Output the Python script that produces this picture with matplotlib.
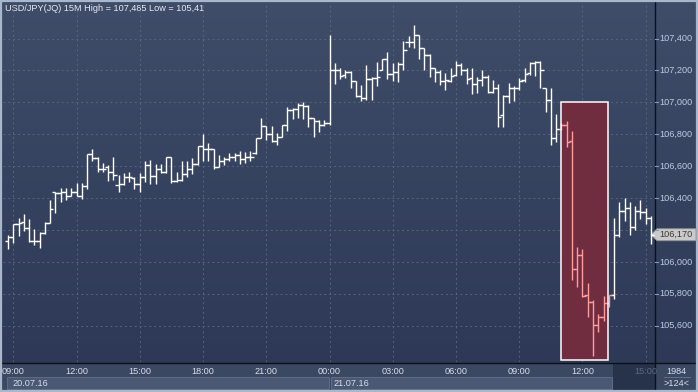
import matplotlib
matplotlib.use("Agg")
import matplotlib.pyplot as plt
import numpy as np
from matplotlib.colors import LinearSegmentedColormap
from matplotlib.patches import Rectangle, Polygon
from matplotlib.transforms import blended_transform_factory

plt.rcParams["font.family"] = ["Liberation Sans", "DejaVu Sans"]

title = "USD/JPY(JQ) 15M High = 107,485 Low = 105,41"

# 15 minute bars, bar 0 = 20.07.16 09:00
first_bar = -1
opens = [
    106130, 106155, 106235, 106250, 106210, 106130, 106130, 106180, 106245, 106435,
    106430, 106440, 106415, 106435, 106415, 106475, 106675, 106650, 106585, 106595,
    106565, 106480, 106490, 106535, 106525, 106490, 106535, 106605, 106540, 106585,
    106565, 106655, 106510, 106515, 106550, 106585, 106615, 106725, 106705, 106705,
    106595, 106635, 106645, 106660, 106670, 106645, 106660, 106685, 106775, 106850,
    106800, 106755, 106785, 106860, 106950, 106960, 106985, 106975, 106900, 106885,
    106860, 106870, 107205, 107205, 107170, 107190, 107135, 107040, 107030, 107145,
    107155, 107205, 107270, 107180, 107190, 107240, 107380, 107380, 107420, 107340,
    107300, 107215, 107190, 107135, 107135, 107170, 107235, 107200, 107150, 107115,
    107140, 107160, 107065, 107090, 106920, 107040, 107090, 107090, 107140, 107185,
    107245, 107250, 107090, 107015, 106775, 106830, 106860, 106755, 105955, 106045,
    105790, 105750, 105605, 105655, 105745, 105790, 106170, 106320, 106340, 106220,
    106320, 106310, 106275,
]
highs = [
    106170, 106240, 106275, 106300, 106270, 106205, 106185, 106250, 106385, 106440,
    106460, 106460, 106460, 106495, 106495, 106675, 106710, 106655, 106620, 106605,
    106660, 106545, 106560, 106565, 106535, 106555, 106630, 106640, 106615, 106615,
    106655, 106655, 106565, 106630, 106635, 106650, 106725, 106800, 106745, 106705,
    106670, 106660, 106680, 106685, 106695, 106690, 106695, 106775, 106900, 106850,
    106850, 106805, 106860, 106970, 106965, 106995, 107005, 106985, 106900, 106890,
    106890, 107425, 107245, 107215, 107205, 107195, 107135, 107110, 107235, 107160,
    107250, 107275, 107315, 107245, 107250, 107385, 107415, 107485, 107420, 107340,
    107305, 107215, 107200, 107185, 107215, 107260, 107245, 107215, 107215, 107160,
    107200, 107170, 107140, 107115, 107045, 107120, 107100, 107150, 107215, 107250,
    107260, 107260, 107090, 107090, 106925, 106870, 106880, 106820, 106095, 106080,
    105870, 105760, 105675, 105785, 105795, 106275, 106375, 106400, 106375, 106350,
    106385, 106340, 106285,
]
lows = [
    106080, 106120, 106165, 106195, 106125, 106105, 106085, 106175, 106245, 106305,
    106375, 106390, 106410, 106410, 106395, 106455, 106630, 106565, 106565, 106510,
    106515, 106435, 106480, 106500, 106455, 106440, 106500, 106490, 106490, 106555,
    106555, 106495, 106500, 106510, 106535, 106550, 106605, 106630, 106630, 106585,
    106595, 106605, 106630, 106630, 106615, 106620, 106630, 106675, 106775, 106765,
    106750, 106730, 106785, 106820, 106895, 106900, 106895, 106845, 106785, 106815,
    106850, 106855, 107115, 107145, 107155, 107090, 107035, 107010, 107015, 107015,
    107100, 107200, 107145, 107135, 107130, 107200, 107345, 107340, 107270, 107205,
    107160, 107130, 107110, 107075, 107130, 107165, 107170, 107115, 107055, 107060,
    107100, 107060, 107060, 106845, 106845, 106995, 107010, 107075, 107130, 107170,
    107165, 107090, 106940, 106730, 106750, 106825, 106720, 105885, 105845, 105780,
    105655, 105410, 105560, 105630, 105715, 105765, 106155, 106255, 106170, 106200,
    106270, 106240, 106115,
]
closes = [
    106155, 106235, 106245, 106210, 106130, 106130, 106180, 106245, 106330, 106430,
    106440, 106415, 106435, 106415, 106475, 106675, 106650, 106580, 106585, 106565,
    106545, 106490, 106535, 106535, 106490, 106535, 106605, 106540, 106585, 106565,
    106655, 106510, 106515, 106550, 106585, 106615, 106725, 106705, 106705, 106595,
    106635, 106645, 106655, 106670, 106645, 106660, 106660, 106775, 106850, 106800,
    106755, 106785, 106860, 106950, 106960, 106985, 106975, 106900, 106885, 106860,
    106870, 107205, 107205, 107165, 107190, 107135, 107040, 107030, 107145, 107155,
    107160, 107270, 107180, 107190, 107240, 107330, 107380, 107420, 107340, 107300,
    107215, 107190, 107135, 107140, 107165, 107235, 107200, 107145, 107115, 107140,
    107160, 107065, 107090, 106910, 107040, 107090, 107090, 107135, 107180, 107245,
    107250, 107200, 107015, 106775, 106830, 106860, 106750, 105955, 106045, 105785,
    105750, 105605, 105655, 105745, 105790, 106170, 106320, 106340, 106220, 106320,
    106310, 106275, 106170,
]

time_ticks = [0, 12, 24, 36, 48, 60, 72, 84, 96, 108, 120]
time_labels = ["09:00", "12:00", "15:00", "18:00", "21:00", "00:00",
               "03:00", "06:00", "09:00", "12:00", "15:00"]
date_labels = ["20.07.16", "21.07.16"]
price_ticks = [105600, 105800, 106000, 106200, 106400, 106600, 106800, 107000, 107200, 107400]
last_price = 106170
box_first, box_last = 104, 113
box_top = 107000

bars = np.arange(first_bar, first_bar + len(closes))
in_box = (bars >= box_first) & (bars <= box_last)
colors = np.where(in_box, "#ff9c9c", "#ffffff")

W, H = 698, 392
fig = plt.figure(figsize=(W / 100, H / 100), dpi=100)

# background layer in pixel coordinates
bg = fig.add_axes([0, 0, 1, 1])
bg.set_xlim(0, W)
bg.set_ylim(H, 0)
bg.axis("off")
cmap = LinearSegmentedColormap.from_list("bgr", ["#3f4d69", "#2d3956"])
grad = np.linspace(0, 1, 256).reshape(-1, 1)
bg.imshow(grad, cmap=cmap, extent=[0, 655, 363, 0], aspect="auto", zorder=0)
bg.imshow(grad, cmap=cmap, extent=[655, W, 363, 0], aspect="auto", zorder=0)
bg.add_patch(Rectangle((0, 363), W, H - 363, fc="#3b4862", ec="none", zorder=1))
bg.add_patch(Rectangle((7, 377), 322, 12, fc="#4a5874", ec="#5e6c88", lw=0.7, zorder=2))
bg.add_patch(Rectangle((331, 377), 281, 12, fc="#4a5874", ec="#5e6c88", lw=0.7, zorder=2))
bg.add_patch(Rectangle((613, 364), 42, 26, fc="#27324b", ec="none", zorder=2))
bg.plot([0, W], [363, 363], color="#0d1018", lw=1.0, zorder=3)
bg.plot([655, 655], [0, 390], color="#0d1018", lw=1.0, zorder=3)
bg.plot([664, 690], [377, 377], color="#6b7894", lw=0.6, zorder=3)
bg.add_patch(Rectangle((1, 1), W - 2, H - 2, fill=False, ec="#a9b7cb", lw=1.6, zorder=4))
bg.text(5, 8, title, color="#e6ebf3", fontsize=6.6, va="center", ha="left", zorder=5)
bg.text(676, 371, "1984", color="#d5deec", fontsize=6.6, va="center", ha="center", zorder=5)
bg.text(676, 384, ">124<", color="#d5deec", fontsize=6.6, va="center", ha="center", zorder=5)
bg.text(12, 383, date_labels[0], color="#d5deec", fontsize=6.6, va="center", ha="left", zorder=5)
bg.text(333, 383, date_labels[1], color="#d5deec", fontsize=6.6, va="center", ha="left", zorder=5)

# price chart
ax = fig.add_axes([3 / W, 30 / H, 652 / W, 359 / H])
ax.patch.set_alpha(0)
for s in ax.spines.values():
    s.set_visible(False)
ax.set_xlim(-1.95, 121.76)
ax.set_ylim(105372, 107623)
ax.set_xticks([])
ax.set_yticks([])

for p in price_ticks:
    ax.axhline(p, color="#56647f", lw=0.7, ls=(0, (2, 3)), zorder=1)
for t in time_ticks:
    ax.axvline(t, color="#56647f", lw=0.7, ls=(0, (2, 3)), zorder=1)

ax.add_patch(Rectangle((box_first - 0.12, 105385), box_last - box_first + 0.02, box_top - 105385,
                       fc="#712d40", ec="none", zorder=2))
ax.add_patch(Rectangle((box_first - 0.12, 105385), box_last - box_first + 0.02, box_top - 105385,
                       fill=False, ec="#ffffff", lw=1.1, zorder=4))

tick = 0.62
ax.vlines(bars, lows, highs, colors=colors, lw=1.0, zorder=3)
ax.hlines(opens, bars - tick, bars, colors=colors, lw=1.0, zorder=3)
ax.hlines(closes, bars, bars + tick, colors=colors, lw=1.0, zorder=3)

# right price axis; the label hidden behind the last-price tag is skipped
tr_right = blended_transform_factory(fig.transFigure, ax.transData)
for p in price_ticks:
    ax.plot([655 / W, 658 / W], [p, p], color="#7f9ccc", lw=0.8, transform=tr_right,
            clip_on=False, zorder=5)
    if abs(p - last_price) < 60:
        continue
    ax.text(659 / W, p, f"{p // 1000},{p % 1000:03d}", color="#bccbe3", fontsize=6.6,
            va="center", ha="left", transform=tr_right, clip_on=False, zorder=5)

# last price tag
y_px = bg.transData.inverted().transform(ax.transData.transform((0, last_price)))[1]
bg.add_patch(Polygon([(651, y_px), (657, y_px - 6), (696, y_px - 6), (696, y_px + 6),
                      (657, y_px + 6)], closed=True, fc="#cacaca", ec="#8f8f8f",
                     lw=0.6, zorder=6))
bg.text(676, y_px, f"{last_price // 1000},{last_price % 1000:03d}", color="#3a3a3a",
        fontsize=6.6, va="center", ha="center", zorder=7)

# time axis
tr_bottom = blended_transform_factory(ax.transData, fig.transFigure)
for t, lab in zip(time_ticks, time_labels):
    col = "#5d6a85" if t == time_ticks[-1] else "#d5deec"
    ax.text(t, 1 - 371 / H, lab, color=col, fontsize=6.6, va="center", ha="center",
            transform=tr_bottom, clip_on=False, zorder=5)

fig.savefig("out.png", dpi=100)
